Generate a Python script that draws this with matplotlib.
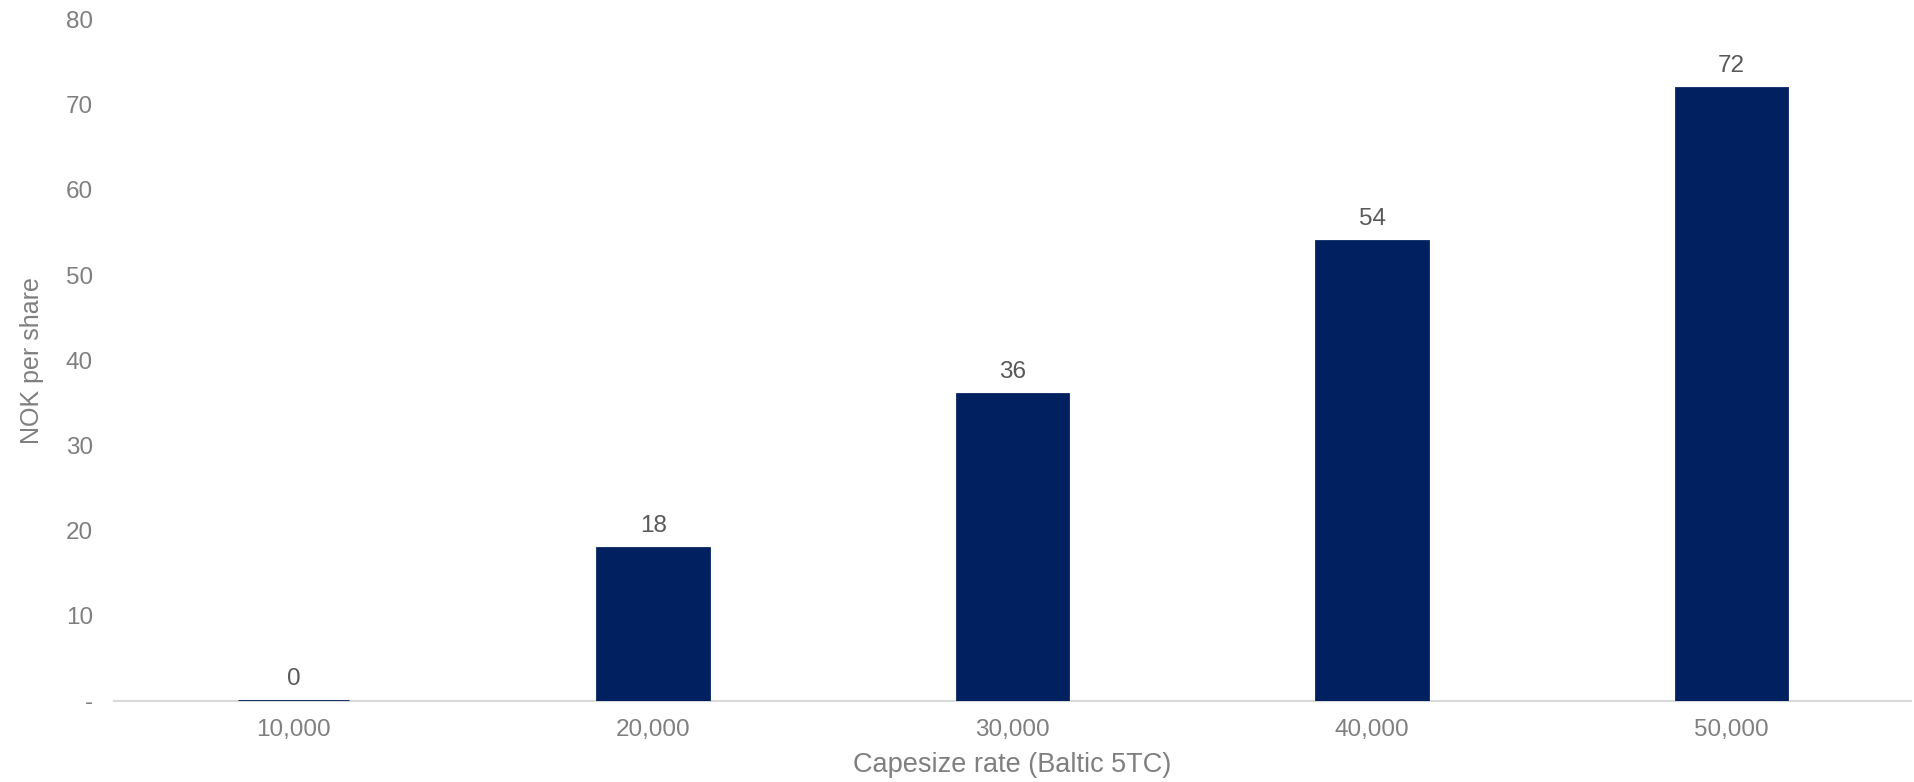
import matplotlib
matplotlib.use("Agg")
import matplotlib.pyplot as plt
from matplotlib import font_manager

rates = ["10,000", "20,000", "30,000", "40,000", "50,000"]
nok_per_share = [0, 18, 36, 54, 72]
y_ticks = [0, 10, 20, 30, 40, 50, 60, 70, 80]
y_tick_labels = ["-", "10", "20", "30", "40", "50", "60", "70", "80"]

navy = "#002060"
grey = "#7f7f7f"
dark = "#595959"

plt.rcParams["font.family"] = ["Liberation Sans", "DejaVu Sans"]
names = {f.name for f in font_manager.fontManager.ttflist}
narrow = "Liberation Sans Narrow" if "Liberation Sans Narrow" in names else "Liberation Sans"

fig = plt.figure(figsize=(19.15, 7.82), dpi=100)
ax = fig.add_axes([0.0595, 0.1036, 0.9385, 0.8714])

x = range(len(rates))
bars = ax.bar(x, nok_per_share, width=0.31, color=navy, edgecolor=navy, linewidth=2, zorder=3)

for b, v in zip(bars, nok_per_share):
    ax.annotate(f"{v:.0f}", (b.get_x() + b.get_width() / 2, v),
                xytext=(0, 8), textcoords="offset points",
                ha="center", va="bottom", fontsize=17.5, color=dark)

ax.set_xlim(-0.5, len(rates) - 0.5)
ax.set_ylim(0, 80)
ax.set_xticks(list(x))
ax.set_xticklabels(rates)
ax.set_yticks(y_ticks)
ax.set_yticklabels(y_tick_labels)
ax.tick_params(axis="both", length=0, labelsize=17.5, colors=grey)
ax.tick_params(axis="x", pad=13)
ax.tick_params(axis="y", pad=15)

for s in ["top", "right", "left"]:
    ax.spines[s].set_visible(False)
ax.spines["bottom"].set_color("#d9d9d9")
ax.spines["bottom"].set_linewidth(1.5)
ax.spines["bottom"].set_zorder(2)

ax.set_xlabel("Capesize rate (Baltic 5TC)", fontsize=19.5, color=grey, labelpad=8)
ax.set_ylabel("NOK per share", fontsize=18, color=grey, family=narrow, labelpad=16)

fig.savefig("out.png", dpi=100)
